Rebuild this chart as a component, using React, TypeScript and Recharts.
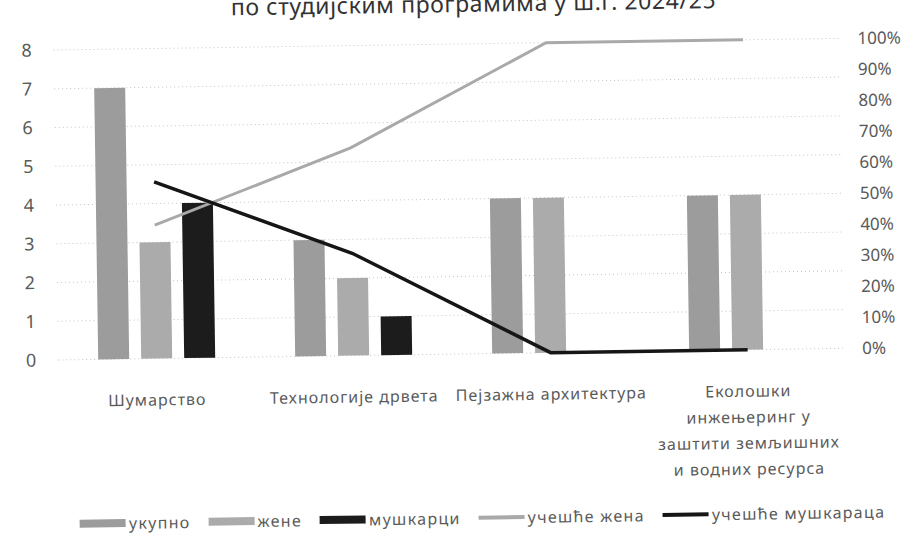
import React from "react";
import {
  ComposedChart,
  Bar,
  Line,
  XAxis,
  YAxis,
  CartesianGrid,
} from "recharts";

// categories (line breaks as on the original axis)
const categories = [
  "Шумарство",
  "Технологије дрвета",
  "Пејзажна архитектура",
  "Еколошки\nинжењеринг у\nзаштити земљишних\nи водних ресурса",
];

// students per programme
const ukupno = [7, 3, 4, 4];
const zene = [3, 2, 4, 4];
const muskarci = [4, 1, 0, 0];

// shares in %
const ucesceZena = [43, 67, 100, 100];
const ucesceMuskaraca = [57, 33, 0, 0];

const leftTicks = [0, 1, 2, 3, 4, 5, 6, 7, 8];
const rightTicks = [0, 10, 20, 30, 40, 50, 60, 70, 80, 90, 100];

const titleText = "по студијским програмима у ш.г. 2024/25";

const seriesNames = ["укупно", "жене", "мушкарци", "учешће жена", "учешће мушкараца"];

const data = categories.map((c, i) => ({
  name: c,
  ukupno: ukupno[i],
  zene: zene[i],
  muskarci: muskarci[i],
  ucesceZena: ucesceZena[i],
  ucesceMuskaraca: ucesceMuskaraca[i],
}));

const FONT = "'Noto Sans', 'DejaVu Sans', sans-serif";
const TEXT = "#5a5a5a";

const colors = {
  ukupno: "#9c9c9c",
  zene: "#ababab",
  muskarci: "#1c1c1c",
  ucesceZena: "#a9a9a9",
  ucesceMuskaraca: "#161616",
};

const CategoryTick = ({ x, y, payload }: any) => {
  const lines = String(payload.value).split("\n");
  return (
    <text x={x} y={y} textAnchor="middle" fill={TEXT} fontSize={16} fontFamily={FONT} letterSpacing={1}>
      {lines.map((l, i) => (
        <tspan key={i} x={x} dy={i === 0 ? 39 : 26}>
          {l}
        </tspan>
      ))}
    </text>
  );
};

function LegendBox() {
  const keys = ["ukupno", "zene", "muskarci", "ucesceZena", "ucesceMuskaraca"] as const;
  return (
    <div
      style={{
        position: "absolute",
        top: 507,
        left: 0,
        width: 958,
        display: "flex",
        justifyContent: "center",
        alignItems: "center",
        fontFamily: FONT,
        fontSize: 16,
        color: TEXT,
        letterSpacing: 1.3,
      }}
    >
      {keys.map((k, i) => (
        <div key={k} style={{ display: "flex", alignItems: "center", marginRight: i < keys.length - 1 ? 18 : 0 }}>
          <span
            style={{
              display: "inline-block",
              width: 46,
              height: i < 3 ? 8 : 4,
              background: colors[k],
              marginRight: 3,
            }}
          />
          <span>{seriesNames[i]}</span>
        </div>
      ))}
    </div>
  );
}

export default function App() {
  return (
    <div
      style={{
        position: "absolute",
        left: 0,
        top: 0,
        width: 921,
        height: 551,
        overflow: "hidden",
        background: "#fff",
      }}
    >
      <div
        style={{
          position: "absolute",
          left: 0,
          top: 0,
          width: 921,
          height: 551,
          transform: "rotate(-0.85deg)",
          transformOrigin: "460px 275px",
        }}
      >
        <div
          style={{
            position: "absolute",
            top: -8,
            left: 0,
            width: 955,
            textAlign: "center",
            fontFamily: FONT,
            fontSize: 23,
            lineHeight: "22px",
            color: "#333",
            letterSpacing: 0.6,
          }}
        >
          {titleText}
        </div>
        <ComposedChart
          width={921}
          height={551}
          data={data}
          margin={{ top: 44, right: 16, bottom: 137, left: 17 }}
          barGap={12}
          barSize={31}
        >
          <CartesianGrid
            yAxisId="left"
            vertical={false}
            stroke="#c4c4c4"
            strokeDasharray="1 3"
          />
          <XAxis
            dataKey="name"
            height={60}
            axisLine={false}
            tickLine={false}
            interval={0}
            tick={<CategoryTick />}
          />
          <YAxis
            yAxisId="left"
            width={40}
            domain={[0, 8]}
            ticks={leftTicks}
            axisLine={false}
            tickLine={false}
            tickMargin={16}
            tick={{ fill: TEXT, fontSize: 18, fontFamily: FONT }}
          />
          <YAxis
            yAxisId="right"
            orientation="right"
            width={60}
            domain={[0, 100]}
            ticks={rightTicks}
            axisLine={false}
            tickLine={false}
            tickMargin={10}
            tickFormatter={(v) => `${v}%`}
            tick={{ fill: TEXT, fontSize: 17, fontFamily: FONT }}
          />
          <Bar yAxisId="left" dataKey="ukupno" name={seriesNames[0]} fill={colors.ukupno} isAnimationActive={false} />
          <Bar yAxisId="left" dataKey="zene" name={seriesNames[1]} fill={colors.zene} isAnimationActive={false} />
          <Bar yAxisId="left" dataKey="muskarci" name={seriesNames[2]} fill={colors.muskarci} isAnimationActive={false} />
          <Line
            yAxisId="right"
            type="linear"
            dataKey="ucesceZena"
            name={seriesNames[3]}
            stroke={colors.ucesceZena}
            strokeWidth={3}
            dot={false}
            isAnimationActive={false}
          />
          <Line
            yAxisId="right"
            type="linear"
            dataKey="ucesceMuskaraca"
            name={seriesNames[4]}
            stroke={colors.ucesceMuskaraca}
            strokeWidth={3.5}
            dot={false}
            isAnimationActive={false}
          />
        </ComposedChart>
        <LegendBox />
      </div>
    </div>
  );
}
